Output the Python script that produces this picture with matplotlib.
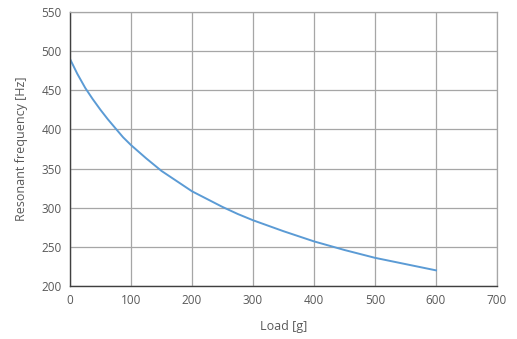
import matplotlib.pyplot as plt

plt.rcParams['font.family'] = ['Open Sans', 'DejaVu Sans']

# Load [g] vs resonant frequency [Hz]
load = [0, 12, 25, 37, 50, 62, 75, 87, 100, 125, 150, 175, 200, 225, 250, 275,
        300, 350, 400, 450, 500, 550, 600]
freq = [490, 471, 453, 439, 425, 413, 401, 390, 380, 363, 347, 334, 321, 311, 301, 292,
        284, 270, 257, 246, 236, 228, 220]

fig = plt.figure(figsize=(5.17, 3.39), dpi=100)
ax = fig.add_axes([0.1354, 0.1563, 0.8259, 0.8083])

ax.plot(load, freq, color='#5b9bd5', linewidth=1.4, solid_joinstyle='round')

ax.set_xlim(0, 700)
ax.set_ylim(200, 550)
ax.set_xticks(range(0, 701, 100))
ax.set_yticks(range(200, 551, 50))
ax.grid(True, color='#a6a6a6', linewidth=0.9)
ax.set_axisbelow(True)

for s in ['top', 'right']:
    ax.spines[s].set_color('#a6a6a6')
    ax.spines[s].set_linewidth(0.9)
for s in ['left', 'bottom']:
    ax.spines[s].set_color('#404040')
    ax.spines[s].set_linewidth(1.0)

ax.tick_params(length=0, labelsize=8.5, labelcolor='#595959', pad=6)
ax.set_xlabel('Load [g]', fontsize=9, color='#595959', labelpad=9)
ax.set_ylabel('Resonant frequency [Hz]', fontsize=9, color='#595959', labelpad=10)

fig.savefig('out.png', dpi=100)
